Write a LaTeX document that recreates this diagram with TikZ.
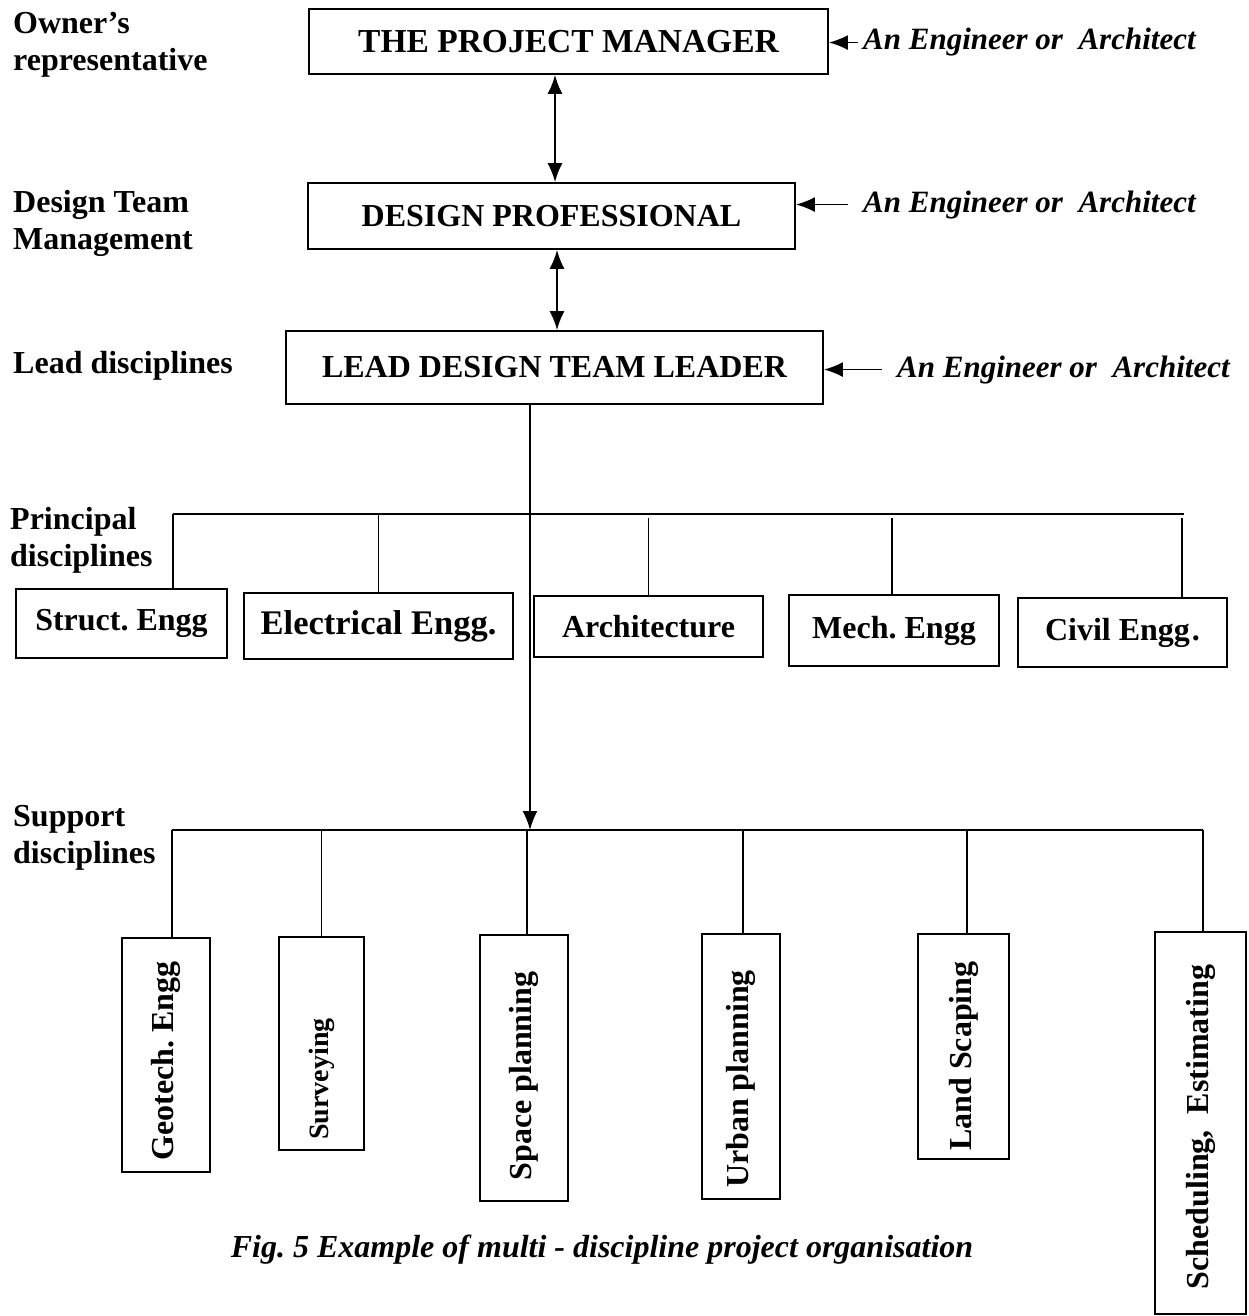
\documentclass[tikz,border=0pt]{standalone}
\usepackage{fontspec}
\setmainfont{Liberation Serif}
\usetikzlibrary{arrows.meta,calc}
\frenchspacing
\begin{document}
\begin{tikzpicture}[x=1pt,y=-1pt,
  bx/.style={draw, line width=1.8pt, inner sep=0pt, font=\fontsize{32}{38}\selectfont\bfseries, align=center},
  lbl/.style={anchor=north west, inner sep=0pt, font=\fontsize{32}{37}\selectfont\bfseries, align=left},
  eng/.style={anchor=base west, inner sep=0pt, font=\fontsize{31}{37}\selectfont\bfseries\itshape},
  ln/.style={line width=1.8pt},
  arr/.style={line width=1.8pt, -{Latex[length=19pt,width=15pt]}},
  darr/.style={line width=1.8pt, {Latex[length=19pt,width=15pt]}-{Latex[length=19pt,width=15pt]}}]
\useasboundingbox (0,0) rectangle (1249,1316);

% left-hand level labels
\node[lbl] (l1) at (13,12) {Owner’s\\representative};
\node[lbl] (l2) at (13,190) {Design Team\\Management};
\node[lbl] (l3) at (13,351) {Lead disciplines};
\node[lbl] (l4) at (10,507) {Principal\\disciplines};
\node[lbl] (l5) at (13,805) {Support\\disciplines};

% management chain
\node[bx, minimum width=519, minimum height=65, font=\fontsize{33.5}{38}\selectfont\bfseries] (pm) at (568.5,41.5) {THE PROJECT MANAGER};
\node[bx, minimum width=487, minimum height=66] (dp) at (551.5,216) {DESIGN PROFESSIONAL};
\node[bx, minimum width=537, minimum height=73] (ld) at (554.5,367.5) {LEAD DESIGN TEAM LEADER};

\node[eng] (e1) at (863,50) {An Engineer or~ Architect};
\node[eng] (e2) at (863,212) {An Engineer or~ Architect};
\node[eng] (e3) at (897,377) {An Engineer or~ Architect};
\draw[arr] ([xshift=-5pt]e1.west) -- (e1.west -| pm.east);
\draw[arr] ([xshift=-15pt]e2.west) -- (e2.west -| dp.east);
\draw[arr] ([xshift=-15pt]e3.west) -- (e3.west -| ld.east);

\draw[darr] ([xshift=-13.5pt]pm.south) -- ([xshift=-13.5pt]pm.south |- dp.north);
\draw[darr] ([xshift=5.5pt]dp.south) -- ([xshift=5.5pt]dp.south |- ld.north);

% buses
\coordinate (pL) at (173,514);
\coordinate (pR) at (1184,514);
\coordinate (sL) at (172,830);
\coordinate (sR) at (1203,830);
\draw[ln] (pL) -- (pR);
\draw[ln] (sL) -- (sR);
\draw[arr] ([xshift=-24.5pt]ld.south) -- ([xshift=-24.5pt]ld.south |- sL);

% principal disciplines
\node[bx, minimum width=211, minimum height=69] (p1) at (121.5,623.5) {Struct. Engg};
\node[bx, minimum width=269, minimum height=66, font=\fontsize{34.5}{38}\selectfont\bfseries] (p2) at (378.5,626) {Electrical Engg.};
\node[bx, minimum width=229, minimum height=61] (p3) at (648.5,626.5) {Architecture};
\node[bx, minimum width=210, minimum height=71] (p4) at (894,630.5) {Mech. Engg};
\node[bx, minimum width=209, minimum height=69] (p5) at (1122.5,632.5) {Civil Engg\kern2pt.};

\draw[ln] (pL) -- (pL |- p1.north);
\draw[ln] (p2.north |- pL) -- (p2.north);
\draw[ln] ($(p3.north |- pL)+(0,4)$) -- (p3.north);
\draw[ln] ($(p4.north |- pL)+(-2,4)$) -- ($(p4.north)+(-2,0)$);
\draw[ln] ($(pR)+(-2,4)$) -- ($(pR |- p5.north)+(-2,0)$);

% support disciplines
\node[bx, minimum width=88, minimum height=234] (v1) at (166,1055) {\rotatebox{90}{Geotech. Engg\hspace{12pt}}};
\node[bx, minimum width=85, minimum height=213, font=\fontsize{28}{34}\selectfont\bfseries] (v2) at (321.5,1043.5) {\rotatebox{90}{Surveying\hspace{71pt}}};
\node[bx, minimum width=88, minimum height=266] (v3) at (524,1068) {\rotatebox{90}{Space planning\hspace{16pt}}};
\node[bx, minimum width=78, minimum height=265] (v4) at (741,1066.5) {\rotatebox{90}{Urban planning\hspace{25pt}}};
\node[bx, minimum width=91, minimum height=225] (v5) at (963.5,1046.5) {\rotatebox{90}{Land Scaping\hspace{19pt}}};
\node[bx, minimum width=91, minimum height=382] (v6) at (1200.5,1123) {\rotatebox{90}{Scheduling,~ Estimating\hspace{8pt}}};

\draw[ln] (sL) -- (sL |- v1.north);
\draw[ln] (v2.north |- sL) -- (v2.north);
\draw[ln] ($(v3.north |- sL)+(3,0)$) -- ($(v3.north)+(3,0)$);
\draw[ln] ($(v4.north |- sL)+(2,0)$) -- ($(v4.north)+(2,0)$);
\draw[ln] ($(v5.north |- sL)+(3.5,0)$) -- ($(v5.north)+(3.5,0)$);
\draw[ln] (sR) -- (sR |- v6.north);

% caption
\node[font=\fontsize{32}{38}\selectfont\bfseries\itshape] (cap) at (602,1250) {Fig. 5 Example of multi - discipline project organisation};
\end{tikzpicture}
\end{document}
